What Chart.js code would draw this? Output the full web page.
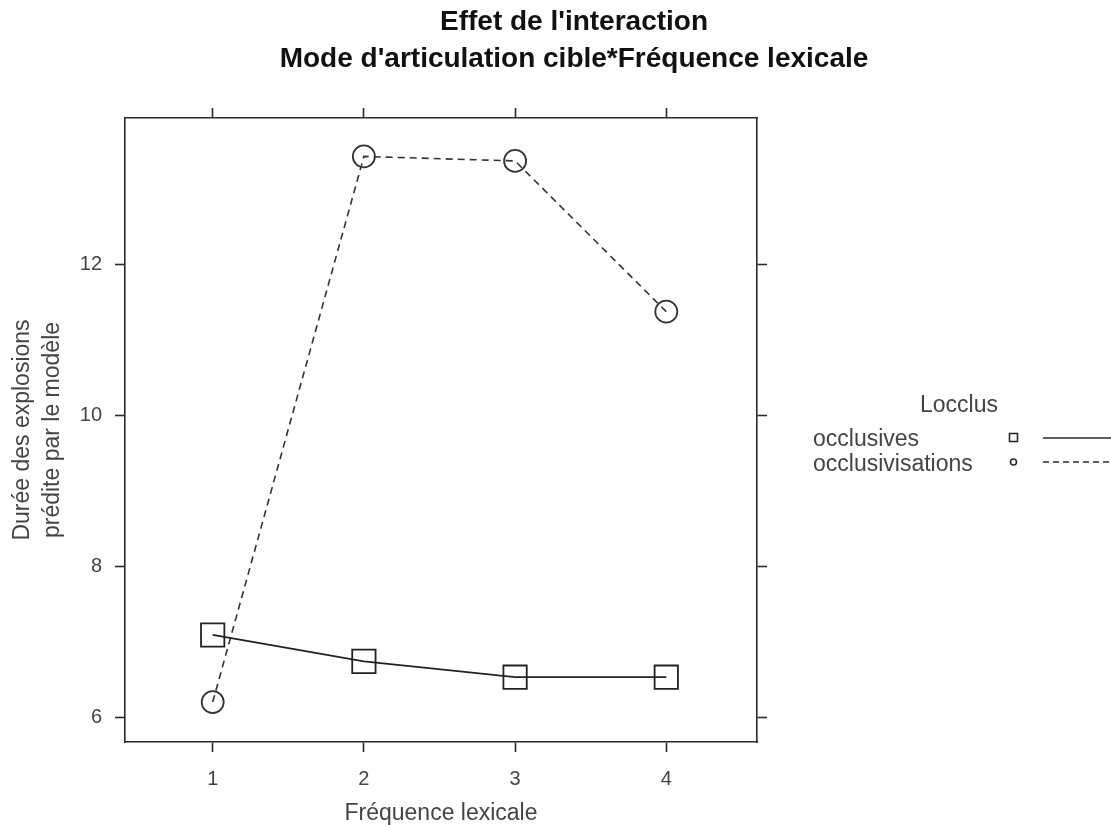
<!DOCTYPE html>
<html>
<head>
    <title>Effet de l'interaction</title>
    <script src="https://cdn.jsdelivr.net/npm/chart.js"></script>
    <style type="text/css">
        body { margin: 0; background: #fff; }
        #wrap { width: 1111px; height: 825px; position: relative; }
    </style>
</head>
<body>
    <div id="wrap"><canvas id="chart"></canvas></div>

    <script type="text/javascript">
        // data
        const frequences = [1, 2, 3, 4];
        const occlusives = [7.09, 6.74, 6.53, 6.53];
        const occlusivisations = [6.20, 13.44, 13.38, 11.38];
        const yTicks = [6, 8, 10, 12];
        const seriesNames = ['occlusives', 'occlusivisations'];

        const ink = '#2a2a2a';
        const txt = '#444';
        const fam = '"Liberation Sans", Arial, sans-serif';

        function pts(vals) {
            return frequences.map((f, i) => ({ x: f, y: vals[i] }));
        }

        function fixedTicks(values) {
            return function (scale) {
                scale.ticks = values.map(v => ({ value: v }));
            };
        }

        // title + lattice-style legend drawn on the canvas
        const extras = {
            id: 'extras',
            afterDraw(chart) {
                const ctx = chart.ctx;
                ctx.save();
                ctx.fillStyle = '#111';
                ctx.textAlign = 'center';
                ctx.textBaseline = 'middle';
                ctx.font = 'bold 28px ' + fam;
                ctx.fillText("Effet de l'interaction", 574, 22);
                ctx.fillText("Mode d'articulation cible*Fréquence lexicale", 574, 59);

                ctx.fillStyle = txt;
                ctx.font = '23px ' + fam;
                ctx.fillText('Locclus', 959, 406);
                ctx.textAlign = 'left';
                ctx.fillText(seriesNames[0], 813, 440);
                ctx.fillText(seriesNames[1], 813, 465);

                ctx.strokeStyle = ink;
                ctx.lineWidth = 1.6;
                ctx.strokeRect(1009.5, 433.5, 8, 8);
                ctx.beginPath();
                ctx.arc(1013.5, 462, 3, 0, Math.PI * 2);
                ctx.stroke();

                ctx.beginPath();
                ctx.moveTo(1043, 438);
                ctx.lineTo(1111, 438);
                ctx.stroke();
                ctx.setLineDash([6, 4]);
                ctx.beginPath();
                ctx.moveTo(1043, 462);
                ctx.lineTo(1111, 462);
                ctx.stroke();
                ctx.restore();
            }
        };

        const xRange = { min: 0.42, max: 4.6 };
        const yRange = { min: 5.67, max: 13.95 };

        const gridOpts = {
            drawOnChartArea: false,
            drawTicks: true,
            tickLength: 10,
            tickWidth: 1.6,
            color: ink
        };
        const borderOpts = { display: true, color: ink, width: 1.6 };

        new Chart(document.getElementById('chart'), {
            type: 'line',
            data: {
                datasets: [{
                    label: seriesNames[0],
                    data: pts(occlusives),
                    borderColor: '#222',
                    borderWidth: 1.8,
                    backgroundColor: 'transparent',
                    pointStyle: 'rect',
                    pointRadius: 16.5,
                    pointBorderWidth: 1.8,
                    pointBorderColor: '#222',
                    pointBackgroundColor: 'transparent',
                    tension: 0
                }, {
                    label: seriesNames[1],
                    data: pts(occlusivisations),
                    borderColor: '#333',
                    borderWidth: 1.6,
                    borderDash: [7, 5],
                    backgroundColor: 'transparent',
                    pointStyle: 'circle',
                    pointRadius: 11,
                    pointBorderWidth: 1.8,
                    pointBorderColor: '#333',
                    pointBackgroundColor: 'transparent',
                    tension: 0
                }]
            },
            options: {
                responsive: true,
                maintainAspectRatio: false,
                animation: false,
                layout: { padding: 0 },
                plugins: {
                    legend: { display: false },
                    title: { display: false },
                    tooltip: { enabled: false }
                },
                scales: {
                    x: {
                        type: 'linear',
                        position: 'bottom',
                        min: xRange.min, max: xRange.max,
                        afterBuildTicks: fixedTicks(frequences),
                        afterFit(s) { s.height = 83; },
                        grid: gridOpts,
                        border: borderOpts,
                        ticks: { color: txt, padding: 15, font: { size: 20, family: fam } },
                        title: {
                            display: true,
                            text: 'Fréquence lexicale',
                            color: txt,
                            padding: { top: 0, bottom: 0 },
                            font: { size: 23, family: fam, lineHeight: 1.0 }
                        }
                    },
                    x2: {
                        type: 'linear',
                        position: 'top',
                        min: xRange.min, max: xRange.max,
                        afterBuildTicks: fixedTicks(frequences),
                        afterFit(s) { s.height = 118; },
                        grid: gridOpts,
                        border: borderOpts,
                        ticks: { display: false }
                    },
                    y: {
                        type: 'linear',
                        position: 'left',
                        min: yRange.min, max: yRange.max,
                        afterBuildTicks: fixedTicks(yTicks),
                        afterFit(s) { s.width = 125; },
                        grid: gridOpts,
                        border: borderOpts,
                        ticks: { color: txt, padding: 13, font: { size: 20, family: fam } },
                        title: {
                            display: true,
                            text: ['Durée des explosions', 'prédite par le modèle'],
                            color: txt,
                            padding: { top: 8, bottom: 0 },
                            font: { size: 23, family: fam, lineHeight: 1.3 }
                        }
                    },
                    y2: {
                        type: 'linear',
                        position: 'right',
                        min: yRange.min, max: yRange.max,
                        afterBuildTicks: fixedTicks(yTicks),
                        afterFit(s) { s.width = 354; },
                        grid: gridOpts,
                        border: borderOpts,
                        ticks: { display: false }
                    }
                }
            },
            plugins: [extras]
        });
    </script>
</body>
</html>
